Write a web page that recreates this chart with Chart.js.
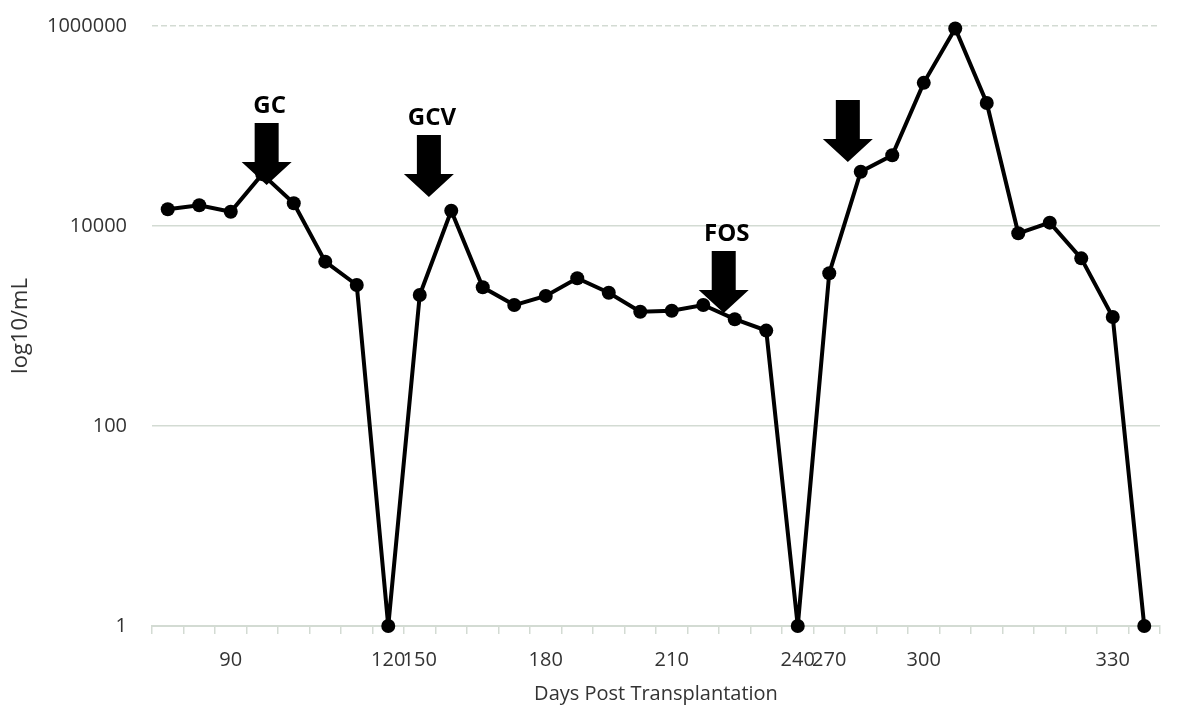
<!DOCTYPE html>
<html>
<head>
<meta charset="utf-8">
<title>Days Post Transplantation</title>
<script src="https://cdn.jsdelivr.net/npm/chart.js@4.4.1/dist/chart.umd.min.js"></script>
<style>
  html, body { margin: 0; padding: 0; background: #fff; }
  #wrap { width: 1183px; height: 706px; }
</style>
</head>
<body>
<div id="wrap"><canvas id="chart"></canvas></div>
<script>
// x categories: only some days carry a label
const tickLabels = ["", "", "90", "", "", "", "", "120", "150", "", "", "", "180", "", "", "",
  "210", "", "", "", "240", "270", "", "", "300", "", "", "", "", "", "330", ""];

const viralLoad = [14700, 16100, 13900, 33000, 16900, 4400, 2570, 1, 2040, 14200, 2440, 1620,
  2000, 3000, 2150, 1390, 1420, 1620, 1170, 900, 1, 3370, 34900, 51000, 270000, 944000,
  170000, 8450, 10800, 4750, 1230, 1];

const yTicks = [1, 100, 10000, 1000000];

// treatment arrows: label, category position, value at the arrow tip
const arrowLabels = ["GC", "GCV", "FOS", ""];
const arrowAt = [3.14, 8.29, 17.65, 21.59];
const arrowTip = [25700, 19500, 1350, 43600];

const GRID = "#d3dbd3";
const TEXT = "#333333";

const arrowPlugin = {
  id: "arrows",
  afterDatasetsDraw(chart) {
    const { ctx, scales } = chart;
    ctx.save();
    ctx.fillStyle = "#000";
    arrowLabels.forEach((label, i) => {
      const x = scales.x.getPixelForValue(arrowAt[i]);
      const tip = scales.y.getPixelForValue(arrowTip[i]);
      const headTop = tip - 23;
      const top = headTop - 39;
      ctx.beginPath();
      ctx.moveTo(x - 12, top);
      ctx.lineTo(x + 12, top);
      ctx.lineTo(x + 12, headTop);
      ctx.lineTo(x + 25, headTop);
      ctx.lineTo(x, tip);
      ctx.lineTo(x - 25, headTop);
      ctx.lineTo(x - 12, headTop);
      ctx.closePath();
      ctx.fill();
      if (label) {
        ctx.font = "bold 24px 'Open Sans'";
        ctx.textAlign = "center";
        ctx.textBaseline = "middle";
        ctx.fillText(label, x + 3, top - 17);
      }
    });
    ctx.restore();
  },
};

new Chart(document.getElementById("chart"), {
  type: "line",
  data: {
    labels: tickLabels,
    datasets: [
      {
        data: viralLoad,
        borderColor: "#000",
        backgroundColor: "#000",
        borderWidth: 4,
        pointRadius: 7,
        pointHoverRadius: 7,
        pointBackgroundColor: "#000",
        pointBorderWidth: 0,
        tension: 0,
        clip: false,
      },
    ],
  },
  options: {
    responsive: true,
    maintainAspectRatio: false,
    animation: false,
    layout: { padding: { top: 26, right: 23, left: 0, bottom: 0 } },
    plugins: {
      legend: { display: false },
      tooltip: { enabled: false },
    },
    scales: {
      x: {
        type: "category",
        offset: true,
        grid: {
          offset: true,
          drawOnChartArea: false,
          drawTicks: true,
          tickLength: 8,
          color: GRID,
          lineWidth: 1.5,
        },
        border: { display: true, color: GRID, width: 2 },
        ticks: {
          autoSkip: false,
          maxRotation: 0,
          padding: 14,
          color: TEXT,
          font: { family: "'Open Sans'", size: 20 },
        },
        title: {
          display: true,
          text: "Days Post Transplantation",
          color: TEXT,
          font: { family: "'Open Sans'", size: 20 },
          padding: { top: 0, bottom: 0 },
        },
        afterFit(scale) {
          scale.height = 80;
        },
      },
      y: {
        type: "logarithmic",
        min: 1,
        max: 1000000,
        afterBuildTicks(scale) {
          scale.ticks = yTicks.map((v) => ({ value: v }));
        },
        grid: {
          drawTicks: false,
          color: GRID,
          lineWidth: 1.5,
        },
        border: {
          display: false,
          dash: (ctx) => (ctx.tick && ctx.tick.value === 1000000 ? [6, 3] : []),
        },
        ticks: {
          padding: 25,
          color: TEXT,
          font: { family: "'Open Sans'", size: 20 },
          callback: (v) => String(v),
        },
        title: {
          display: true,
          text: "log10/mL",
          color: TEXT,
          font: { family: "'Open Sans'", size: 22 },
          padding: { top: 8, bottom: 0 },
        },
        afterFit(scale) {
          scale.width = 152;
          scale.paddingTop = 0;
          scale.paddingBottom = 0;
        },
      },
    },
  },
  plugins: [arrowPlugin],
});
</script>
</body>
</html>
